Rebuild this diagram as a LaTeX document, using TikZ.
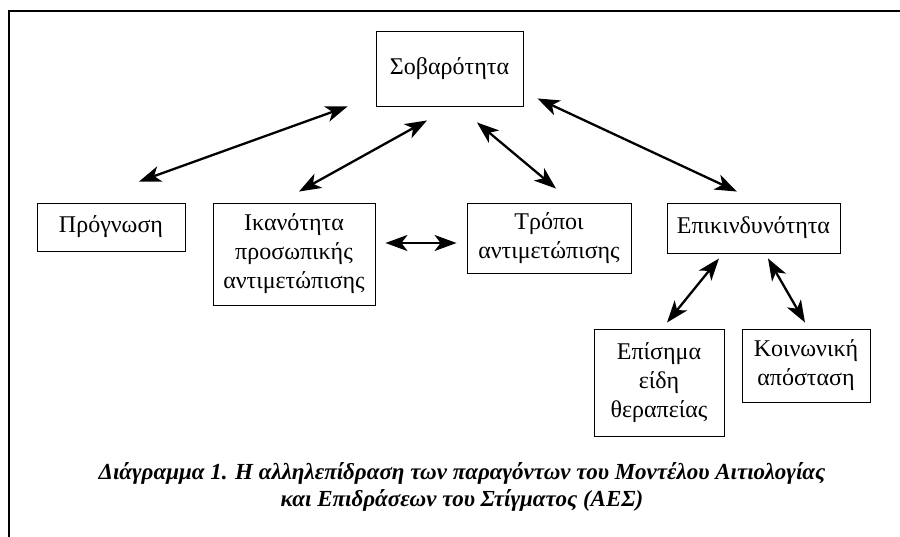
\documentclass[tikz,border=0pt]{standalone}
\usepackage{fontspec}
\setmainfont{Liberation Serif}
\usetikzlibrary{calc,arrows.meta}

\begin{document}
\begin{tikzpicture}[x=1pt, y=-1pt,
    factor/.style={draw, line width=0.9pt, align=center, inner sep=0pt,
      font=\fontsize{24}{29}\selectfont},
    link/.style={line width=2.3pt, {Stealth[length=22pt,width=16pt,inset=6pt]}-{Stealth[length=22pt,width=16pt,inset=6pt]}}]
    %%%%% FRAME %%%%%
    \useasboundingbox (0,0) rectangle (900,537);
    \draw[line width=2.4pt] (9,537) -- (9,11) -- (900,11);

    %%%%% FACTORS %%%%%
    \node[factor, minimum width=147pt, minimum height=75pt] (sob) at (449.5,68.5) {Σοβαρότητα};

    \node[factor, minimum width=148pt, minimum height=48pt] (prog) at (111,227) {Πρόγνωση};
    \node[factor, minimum width=162pt, minimum height=102pt] (ikan) at (294,254) {Ικανότητα\\προσωπικής\\αντιμετώπισης};
    \node[factor, minimum width=164pt, minimum height=70pt] (trop) at (549,238) {Τρόποι\\αντιμετώπισης};
    \node[factor, minimum width=173pt, minimum height=50pt] (epik) at (753.5,228) {Επικινδυνότητα};

    \node[factor, minimum width=130pt, minimum height=107pt] (epis) at (659,382.5) {Επίσημα\\είδη\\θεραπείας};
    \node[factor, minimum width=128pt, minimum height=73pt] (koin) at (806,365.5) {Κοινωνική\\απόσταση};

    %%%%% LINKS %%%%%
    \draw[link] ($(sob.south west)+(-28,0)$) -- ($(prog.north)+(28,-21)$);
    \draw[link] ($(sob.south)+(-22.5,14)$) -- ($(ikan.north)+(5,-11)$);
    \draw[link] ($(sob.south)+(27.5,16)$) -- ($(trop.north)+(7,-14)$);
    \draw[link] ($(sob.south east)+(14,-8)$) -- ($(epik.north)+(-16.5,-11)$);
    \draw[link] ($(ikan.east)+(10,-11)$) -- ($(trop.west)+(-10,5)$);
    \draw[link] ($(epik.south)+(-34.5,5)$) -- ($(epis.north)+(8,-6)$);
    \draw[link] ($(epik.south)+(14.5,5)$) -- ($(koin.north)+(-1,-6)$);

    %%%%% CAPTION %%%%%
    \node[align=center, font=\fontsize{23}{27}\selectfont\bfseries\itshape] (caption) at (462,487)
      {Διάγραμμα 1. Η αλληλεπίδραση των παραγόντων του Μοντέλου Αιτιολογίας\\
       και Επιδράσεων του Στίγματος (ΑΕΣ)};
\end{tikzpicture}
\end{document}
